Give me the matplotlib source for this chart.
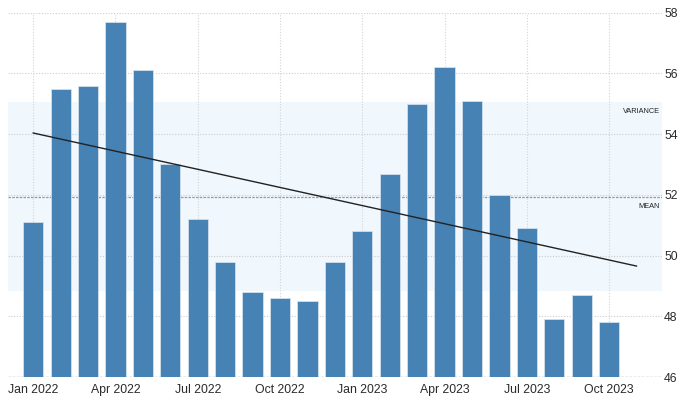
import numpy as np
import matplotlib
matplotlib.use("Agg")
import matplotlib.pyplot as plt

months = ["Jan 2022", "Feb 2022", "Mar 2022", "Apr 2022", "May 2022", "Jun 2022",
          "Jul 2022", "Aug 2022", "Sep 2022", "Oct 2022", "Nov 2022", "Dec 2022",
          "Jan 2023", "Feb 2023", "Mar 2023", "Apr 2023", "May 2023", "Jun 2023",
          "Jul 2023", "Aug 2023", "Sep 2023", "Oct 2023"]
values = [51.1, 55.5, 55.6, 57.7, 56.1, 53.0, 51.2, 49.8, 48.8, 48.6, 48.5, 49.8,
          50.8, 52.7, 55.0, 56.2, 55.1, 52.0, 50.9, 47.9, 48.7, 47.8]
tick_labels = ["Jan 2022", "Apr 2022", "Jul 2022", "Oct 2022",
               "Jan 2023", "Apr 2023", "Jul 2023", "Oct 2023"]
y_ticks = [46, 48, 50, 52, 54, 56, 58]

plt.rcParams['font.family'] = ['Liberation Sans Narrow', 'Liberation Sans', 'DejaVu Sans']

x = np.arange(len(values))
vals = np.array(values)
mean = vals.mean()
std = vals.std(ddof=1)

fig = plt.figure(figsize=(6.87, 4.0), dpi=100)
ax = fig.add_axes([8/687, 1-377/400, (662-8)/687, (377-12.7)/400])

ax.axhspan(mean - std, mean + std, color="#f0f7fd", zorder=0, lw=0)

for yt in y_ticks:
    ax.axhline(yt, color="#cccccc", lw=0.8, ls=(0, (1, 1.5)), zorder=1)
tick_pos = [months.index(t) for t in tick_labels]
for xp in tick_pos:
    ax.axvline(xp, color="#d5d5d5", lw=0.8, ls=(0, (1, 1.5)), zorder=1)
ax.axhline(mean, color="#999999", lw=0.9, ls=(0, (2, 1)), zorder=1)
ax.axhline(46, color="#aaaaaa", lw=1.0, ls=(0, (2, 1)), zorder=1)

ax.bar(x, vals - 46, bottom=46, width=0.74, color="#4682b4",
       edgecolor="#dbe6f1", linewidth=0.5, zorder=2)

coef = np.polyfit(x, vals, 1)
xt = np.array([0, len(values)])
ax.plot(xt, np.polyval(coef, xt), color="#222222", lw=1.0, zorder=3)

ax.text(0.9965, (mean + std - 46) / 12 - 0.018, "VARIANCE", transform=ax.transAxes,
        ha="right", va="top", fontsize=5.3, color="#222222")
ax.text(0.9965, (mean - 46) / 12 - 0.018, "MEAN", transform=ax.transAxes,
        ha="right", va="top", fontsize=5.3, color="#222222")

ax.set_xlim(-0.92, 22.93)
ax.set_ylim(46, 58)
ax.set_xticks(tick_pos)
ax.set_xticklabels(tick_labels)
ax.set_yticks(y_ticks)
ax.yaxis.tick_right()
ax.tick_params(axis="both", length=0, labelsize=8.8, colors="#2a2a2a")
ax.tick_params(axis="y", pad=1.5)
ax.tick_params(axis="x", pad=5)
for s in ax.spines.values():
    s.set_visible(False)

fig.savefig("out.png", dpi=100)
